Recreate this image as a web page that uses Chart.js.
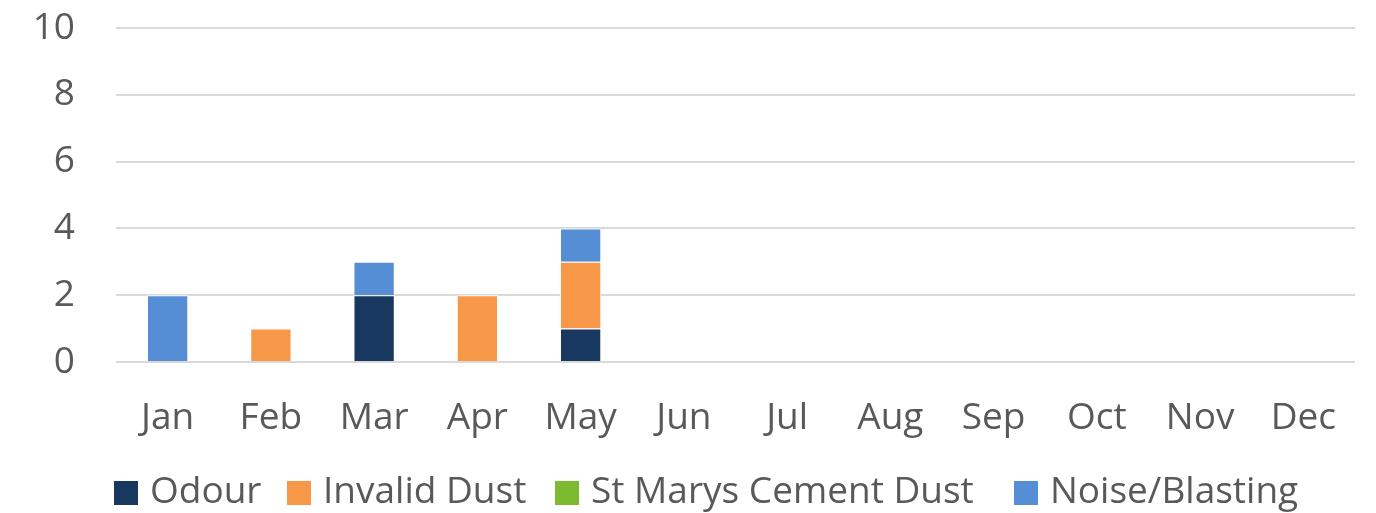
<!DOCTYPE html>
<html>
<head>
<meta charset="utf-8">
<script src="https://cdn.jsdelivr.net/npm/chart.js@4/dist/chart.umd.min.js"></script>
<style>
html,body{margin:0;padding:0;background:#fff;}
#wrap{width:1376px;height:513px;position:relative;overflow:hidden;}
#c{position:absolute;left:0;top:0;}
.sw{position:absolute;top:481px;width:24px;height:24px;}
.lt{position:absolute;top:470px;line-height:37px;font-family:'Open Sans',sans-serif;font-size:37px;color:#595959;white-space:nowrap;}
</style>
</head>
<body>
<div id="wrap">
  <canvas id="c" width="1376" height="513"></canvas>
  <div id="legend"></div>
</div>
<script>
const categories = ["Jan","Feb","Mar","Apr","May","Jun","Jul","Aug","Sep","Oct","Nov","Dec"];
const odour = [0,0,2,0,1,0,0,0,0,0,0,0];
const invalidDust = [0,1,0,2,2,0,0,0,0,0,0,0];
const stMarysCementDust = [0,0,0,0,0,0,0,0,0,0,0,0];
const noiseBlasting = [2,0,1,0,1,0,0,0,0,0,0,0];
const seriesNames = ["Odour","Invalid Dust","St Marys Cement Dust","Noise/Blasting"];
const seriesColors = ["#183860","#f79848","#7cba2f","#558ed5"];
const legendX = [114, 287, 555, 1014];
const yTicks = [0,2,4,6,8,10];

const FONT = "'Open Sans', sans-serif";
const TXT = "#595959";

function ds(i, data){
  return {label: seriesNames[i], data, backgroundColor: seriesColors[i], borderColor: "#ffffff", borderWidth: 1,
          categoryPercentage: 1.0, barPercentage: 0.4};
}

const chart = new Chart(document.getElementById("c"), {
  type: "bar",
  data: {
    labels: categories,
    datasets: [ds(0, odour), ds(1, invalidDust), ds(2, stMarysCementDust), ds(3, noiseBlasting)]
  },
  options: {
    responsive: false,
    animation: false,
    layout: {padding: {left: 0, right: 21, top: 28, bottom: 61}},
    plugins: {
      tooltip: {enabled: false},
      legend: {display: false}
    },
    scales: {
      x: {
        stacked: true,
        grid: {display: false},
        border: {display: false},
        ticks: {font: {family: FONT, size: 37}, color: TXT, padding: 26, maxRotation: 0, autoSkip: false},
        afterFit: (scale) => { scale.height = 90; scale.paddingLeft = 0; scale.paddingRight = 0; }
      },
      y: {
        stacked: true,
        min: 0, max: 10,
        afterBuildTicks: (axis) => { axis.ticks = yTicks.map(v => ({value: v})); },
        afterFit: (scale) => { scale.width = 116; scale.paddingTop = 0; scale.paddingBottom = 0; },
        grid: {color: "#d9d9d9", lineWidth: 2, drawTicks: false},
        border: {display: false},
        ticks: {font: {family: FONT, size: 37}, color: TXT, padding: 41}
      }
    }
  }
});

const lg = document.getElementById("legend");
chart.data.datasets.forEach((d, i) => {
  const sw = document.createElement("div");
  sw.className = "sw";
  sw.style.left = legendX[i] + "px";
  sw.style.background = d.backgroundColor;
  const t = document.createElement("div");
  t.className = "lt";
  t.style.left = (legendX[i] + 36) + "px";
  t.textContent = d.label;
  lg.appendChild(sw);
  lg.appendChild(t);
});
</script>
</body>
</html>
